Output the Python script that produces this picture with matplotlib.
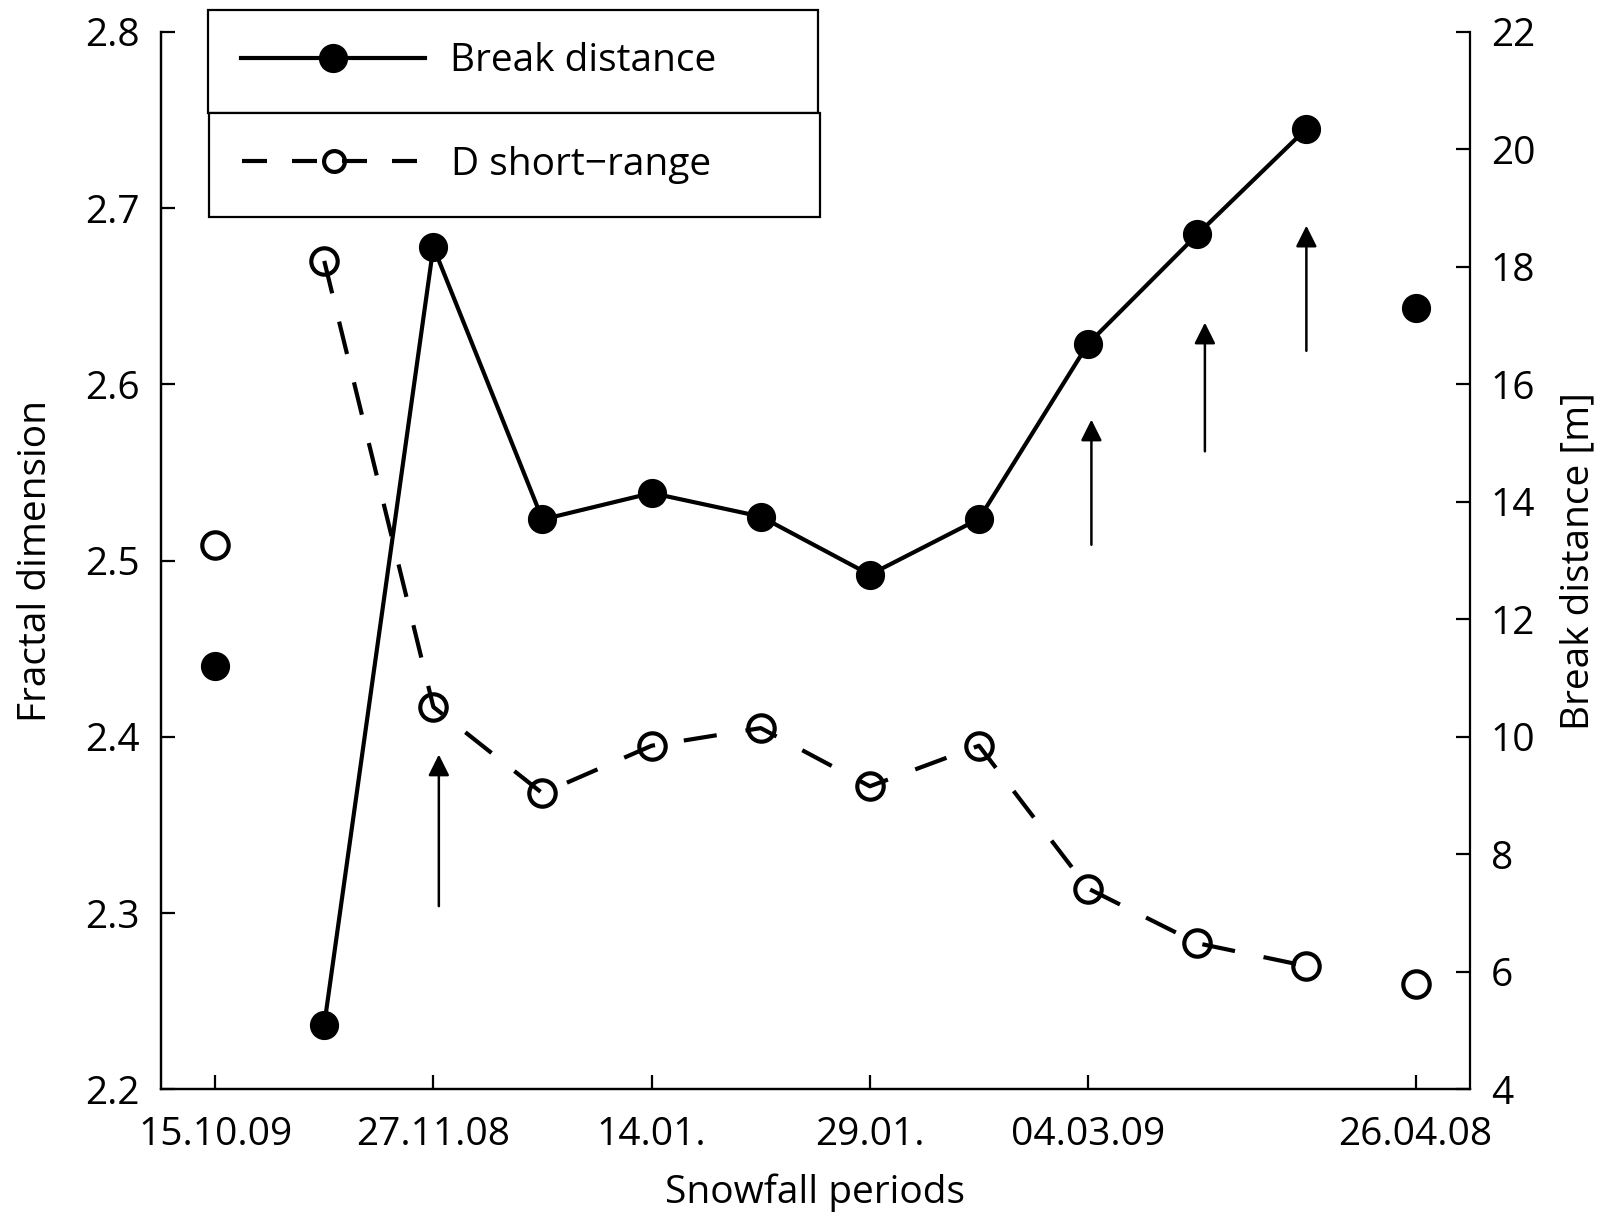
import matplotlib
matplotlib.use("Agg")
import matplotlib.pyplot as plt
from matplotlib.lines import Line2D
import numpy as np

plt.rcParams['font.family'] = ['Open Sans', 'DejaVu Sans']

# ---- data ----
period_index = np.arange(12)
tick_positions = [0, 2, 4, 6, 8, 11]
tick_labels = ["15.10.09", "27.11.08", "14.01.", "29.01.", "04.03.09", "26.04.08"]

d_short_range = np.array([2.509, 2.670, 2.417, 2.368, 2.395, 2.405,
                          2.372, 2.395, 2.314, 2.283, 2.270, 2.260])
break_distance = np.array([11.21, 5.10, 18.34, 13.70, 14.15, 13.75,
                           12.76, 13.71, 16.69, 18.55, 20.35, 17.30])

# arrows (x position, start value, end value on fractal-dimension axis)
arrow_x = [2.05, 8.03, 9.07, 10.0]
arrow_start = [2.304, 2.509, 2.562, 2.619]
arrow_end = [2.390, 2.580, 2.635, 2.690]

FS = 28
LW = 3.0

fig = plt.figure(figsize=(16.04, 12.21), dpi=100)
ax = fig.add_axes([0.1001, 0.1077, 0.8164, 0.8663])
ax2 = ax.twinx()

# D short-range (left axis)
conn = slice(1, 11)
ax.plot(period_index[conn], d_short_range[conn], color='black', lw=LW,
        dashes=(8, 7), marker='o', markersize=19, markerfacecolor='none',
        markeredgewidth=3, markeredgecolor='black')
ax.plot(period_index[[0, 11]], d_short_range[[0, 11]], ls='none',
        marker='o', markersize=19, markerfacecolor='none',
        markeredgewidth=3, markeredgecolor='black')

for xa, y0, y1 in zip(arrow_x, arrow_start, arrow_end):
    ax.annotate("", xy=(xa, y1), xytext=(xa, y0),
                arrowprops=dict(arrowstyle='-|>', color='black', lw=1.8,
                                mutation_scale=32, shrinkA=0, shrinkB=0))

# Break distance (right axis)
ax2.plot(period_index[conn], break_distance[conn], color='black', lw=LW,
         marker='o', markersize=20, markerfacecolor='black',
         markeredgecolor='black')
ax2.plot(period_index[[0, 11]], break_distance[[0, 11]], ls='none',
         marker='o', markersize=20, markerfacecolor='black',
         markeredgecolor='black')

ax.set_xlim(-0.5, 11.5)
ax.set_ylim(2.2, 2.8)
ax2.set_ylim(4, 22)
ax.set_yticks(np.arange(2.2, 2.81, 0.1))
ax.set_yticklabels([f"{v:.1f}" for v in np.arange(2.2, 2.81, 0.1)])
ax2.set_yticks(np.arange(4, 23, 2))
ax.set_xticks(tick_positions)
ax.set_xticklabels(tick_labels)

for a in (ax, ax2):
    a.spines['top'].set_visible(False)
    for s in a.spines.values():
        s.set_linewidth(1.6)
    a.tick_params(direction='in', length=10, width=1.6, labelsize=FS, pad=15)
ax.spines['right'].set_visible(False)
ax.tick_params(axis='x', pad=19)

ax.set_xlabel("Snowfall periods", fontsize=FS, labelpad=14)
ax.set_ylabel("Fractal dimension", fontsize=FS, labelpad=22)
ax2.set_ylabel("Break distance [m]", fontsize=FS, labelpad=17)

h1 = Line2D([], [], color='black', lw=LW, marker='o', markersize=20,
            markerfacecolor='black')
h2 = Line2D([], [], color='black', lw=LW, dashes=(6, 6), marker='o',
            markersize=15, markerfacecolor='none', markeredgewidth=3)

leg_kw = dict(loc='center', mode='expand', borderaxespad=0, fontsize=FS,
              frameon=True, fancybox=False, framealpha=1, edgecolor='black',
              handlelength=4.75, handletextpad=0.64, borderpad=0.84,
              bbox_transform=fig.transFigure)
leg1 = fig.legend([h1], ["Break distance"],
                  bbox_to_anchor=(0.1297, 0.9079, 0.380, 0.0839), **leg_kw)
leg2 = fig.legend([h2], ["D short\u2212range"],
                  bbox_to_anchor=(0.1303, 0.8223, 0.381, 0.0852), **leg_kw)
for lg in (leg1, leg2):
    lg.get_frame().set_linewidth(1.6)

fig.savefig("out.png", dpi=100)
